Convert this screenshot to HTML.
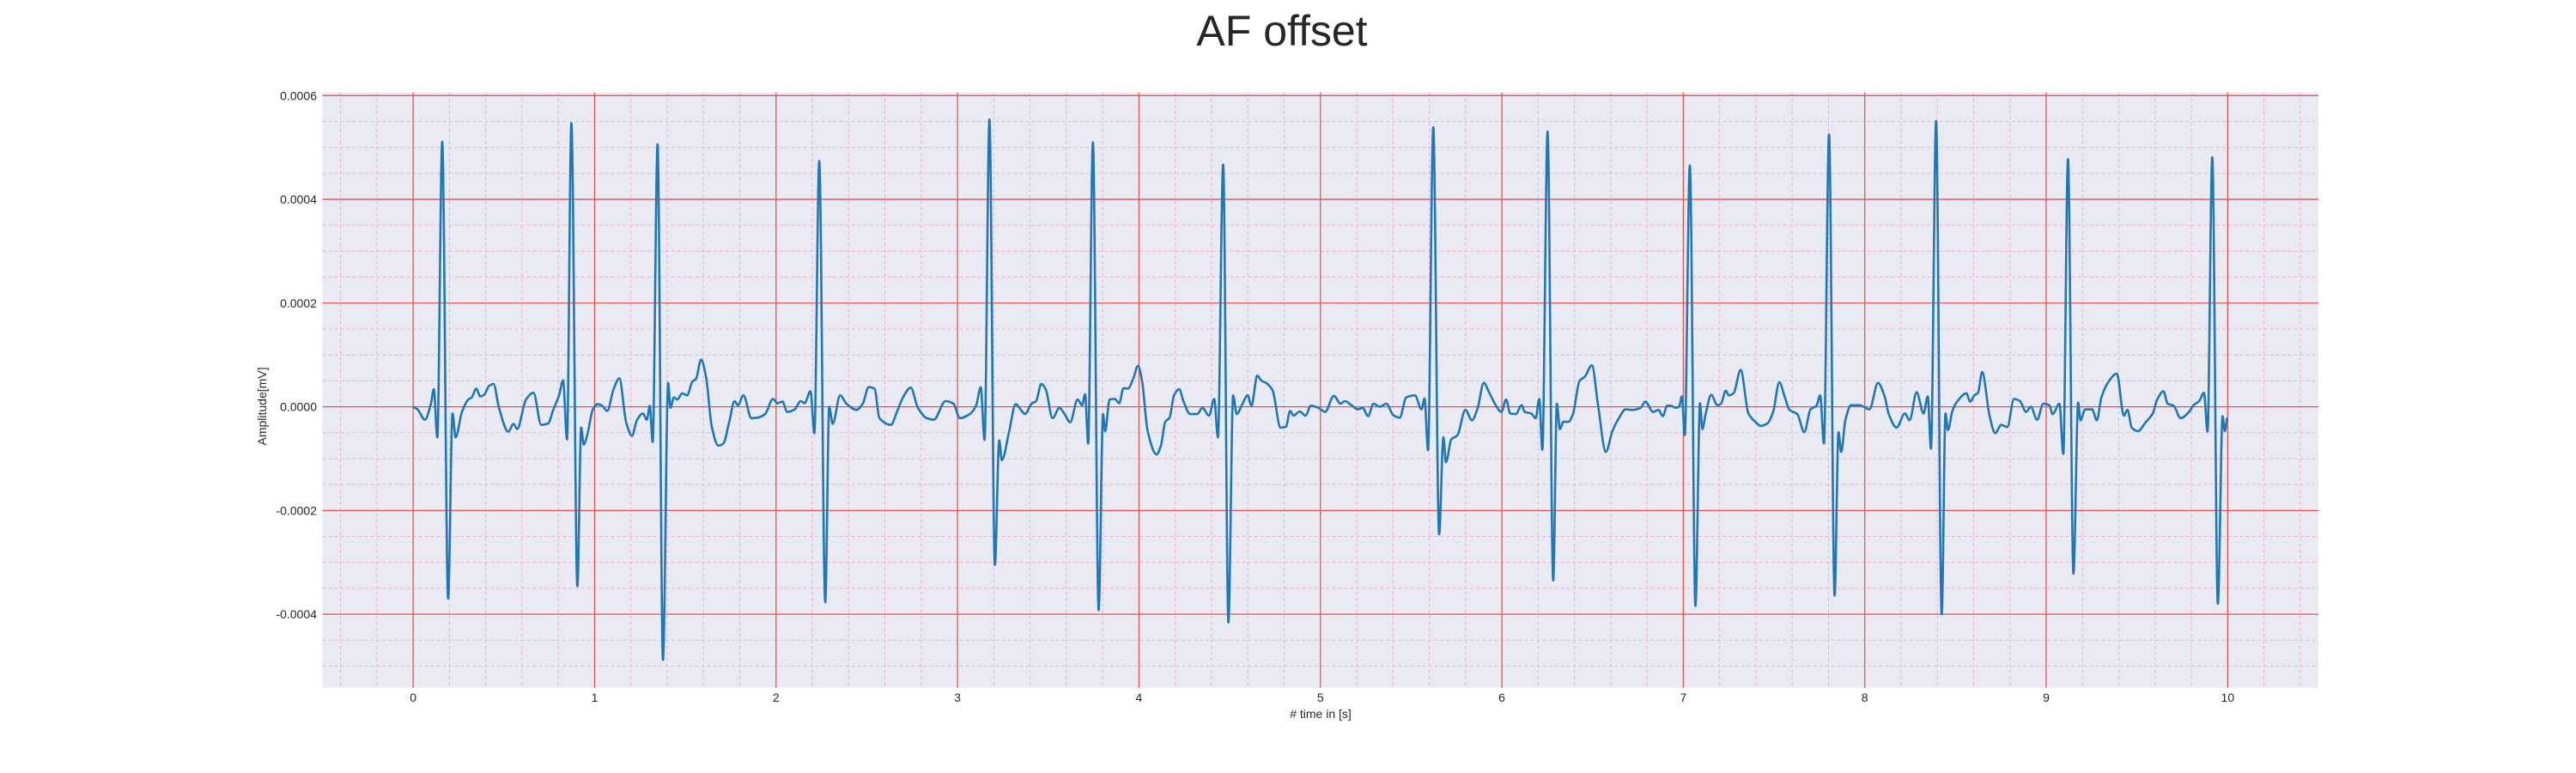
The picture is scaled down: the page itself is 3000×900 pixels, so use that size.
<!DOCTYPE html>
<html><head><meta charset="utf-8"><style>
html,body{margin:0;padding:0;background:#fff;}
svg{display:block;font-family:"Liberation Sans",sans-serif;}
</style></head><body>
<svg id="chart" width="3000" height="900" viewBox="0 0 3000 900">
<text x="1493" y="53" font-size="50" text-anchor="middle" fill="#262626">AF offset</text>
<rect x="375.5" y="107.7" width="2324.5" height="693" fill="#eaeaf2"/>
<g id="grid"></g>
<g id="ticks"></g>
<g id="series"></g>
<text x="1538" y="836" font-size="14" text-anchor="middle" fill="#262626"># time in [s]</text>
<text transform="translate(310,473) rotate(-90)" font-size="14" text-anchor="middle" fill="#262626">Amplitude[mV]</text>
</svg>
<script>
const xTicks = [0,1,2,3,4,5,6,7,8,9,10];
const yTicks = [-0.0004,-0.0002,0,0.0002,0.0004,0.0006];
const yTickLabels = ["-0.0004","-0.0002","0.0000","0.0002","0.0004","0.0006"];
// time (s)
const times = [0,.024,.065,.098,.114,.133,.160,.193,.217,.234,.269,.304,.323,.348,.370,.391,.418,.443,.473,.524,.554,.573,.622,.663,.706,.744,.772,.804,.826,.848,.872,.905,.926,.940,.962,.989,1.016,1.038,1.070,1.103,1.136,1.174,1.206,1.233,1.266,1.288,1.304,1.320,1.347,1.377,1.405,1.418,1.437,1.456,1.483,1.510,1.538,1.559,1.587,1.614,1.646,1.682,1.709,1.744,1.771,1.790,1.820,1.864,1.898,1.940,1.983,2.008,2.035,2.062,2.103,2.136,2.157,2.190,2.211,2.238,2.271,2.293,2.312,2.353,2.388,2.443,2.478,2.510,2.543,2.570,2.633,2.666,2.701,2.742,2.782,2.831,2.869,2.934,2.978,3.013,3.068,3.103,3.128,3.149,3.176,3.206,3.230,3.244,3.285,3.320,3.358,
3.372,3.408,3.433,3.462,3.486,3.524,3.561,3.590,3.621,3.662,3.686,3.703,3.720,3.746,3.778,3.802,3.814,3.838,3.867,3.891,3.915,3.939,3.969,3.995,4.017,4.048,4.097,4.121,4.145,4.169,4.193,4.222,4.246,4.282,4.321,4.350,4.386,4.415,4.435,4.464,4.493,4.519,4.539,4.567,4.599,4.620,4.652,4.676,4.700,4.736,4.780,4.809,4.833,4.852,4.886,4.918,4.947,4.990,5.026,5.074,5.111,5.135,5.171,5.207,5.232,5.263,5.292,5.328,5.364,5.401,5.437,5.473,5.521,5.557,5.574,5.593,5.622,5.654,5.678,5.692,5.721,5.755,5.799,5.835,5.867,5.900,5.932,5.968,5.997,6.024,6.046,6.077,6.109,6.126,6.162,6.186,6.206,6.223,6.252,6.283,6.303,6.320,6.339,6.368,6.392,6.428,6.457,6.496,6.530,6.573,6.609,6.645,6.682,6.718,6.766,6.790,6.834,6.863,6.887,6.911,
6.931,6.956,6.977,6.992,7.008,7.036,7.067,7.092,7.105,7.123,7.154,7.187,7.208,7.234,7.251,7.277,7.316,7.359,7.400,7.426,7.464,7.495,7.529,7.559,7.585,7.628,7.667,7.701,7.734,7.754,7.775,7.803,7.834,7.855,7.870,7.893,7.924,7.970,8.026,8.073,8.111,8.132,8.175,8.221,8.247,8.286,8.324,8.347,8.365,8.393,8.424,8.445,8.458,8.483,8.509,8.560,8.581,8.604,8.624,8.647,8.688,8.719,8.752,8.786,8.822,8.855,8.889,8.915,8.950,8.984,9.017,9.035,9.073,9.094,9.120,9.150,9.176,9.189,9.215,9.253,9.279,9.304,9.343,9.389,9.428,9.448,9.471,9.505,9.548,9.587,9.612,9.646,9.669,9.702,9.741,9.787,9.812,9.843,9.869,9.889,9.915,9.946,9.972,9.984,9.997];
// amplitude in units of 1e-4 mV
const amps = [0,-.05,-.25,.06,.34,-.59,5.11,-3.70,-.13,-.59,-.1,.14,.18,.35,.2,.23,.4,.44,-.02,-.48,-.33,-.43,.14,.27,-.35,-.32,-.06,.22,.51,-.63,5.47,-3.46,-.40,-.73,-.51,-.06,.05,.03,-.08,.32,.55,-.30,-.56,-.26,-.13,-.25,.02,-.68,5.06,-4.88,.46,-.02,.18,.14,.26,.22,.48,.54,.91,.58,-.39,-.75,-.71,-.26,.11,.03,.22,-.22,-.21,-.14,.15,.07,.10,-.1,-.05,.11,.07,.3,-.51,4.74,-3.77,0,-.33,.22,.06,-.06,.06,.38,.35,-.22,-.35,-.1,.19,.37,-.02,-.22,-.25,.11,.06,-.22,-.14,.03,.38,-.64,5.54,-3.05,-.65,-1.03,-.47,.05,-.1,
-.14,.06,.11,.44,.34,-.22,-.02,-.14,-.3,.14,.03,.24,-.71,5.10,-3.92,-.14,-.47,.14,.15,.07,.36,.35,.55,.79,.5,-.47,-.92,-.75,-.29,-.21,.22,.34,.1,-.14,-.14,-.02,-.17,.15,-.59,4.67,-4.16,.22,-.14,.03,.22,.02,.60,.5,.46,.32,-.4,-.39,-.08,-.17,-.09,-.17,.02,-.02,-.1,.21,.06,.11,.03,-.05,-.02,-.18,.06,0,.06,-.16,-.21,.18,.22,-.05,.16,-.84,5.39,-2.46,-.59,-1.07,-.63,-.55,-.06,-.26,-.02,.46,.26,.02,-.1,.14,-.13,-.14,.03,-.1,-.13,-.22,.15,-.83,5.31,-3.35,.06,-.43,-.29,-.29,-.14,.5,.58,.8,.03,-.87,-.47,-.22,-.05,-.06,-.02,.1,-.1,-.06,-.18,.02,
.02,-.02,0,.2,-.55,4.65,-3.84,.07,-.43,-.14,.23,.03,.06,.31,.22,.26,.71,-.13,-.3,-.37,-.32,-.1,.47,.19,-.06,-.14,-.49,-.05,.02,.22,-.71,5.25,-3.64,-.49,-.87,-.26,.03,.03,-.05,.46,.18,-.14,-.4,-.13,-.26,.28,-.13,.2,-.81,5.51,-4.0,-.13,-.45,-.08,.1,.26,.1,.22,.27,.67,-.18,-.51,-.35,-.39,.15,.11,-.1,0,-.25,.06,.03,-.14,.06,-.91,4.78,-3.22,.08,-.26,-.05,-.05,-.26,.18,.48,.64,-.17,-.06,-.4,-.47,-.3,-.13,.14,.3,.06,.02,-.22,-.1,.03,.11,.27,-.48,4.81,-3.80,-.18,-.47,-.21];

const NS='http://www.w3.org/2000/svg';
const X0=375.5, X1=2700, XMIN=-0.5, XMAX=10.5;
const Y0=473.6, PX_PER_UNIT=60.38e4; // px per mV
const YT=107.7, YB=800.7;
function sx(t){return X0+(t-XMIN)/(XMAX-XMIN)*(X1-X0);}
function sy(v){return Y0-v*PX_PER_UNIT;}
function mk(tag,attrs,parent){const e=document.createElementNS(NS,tag);for(const k in attrs)e.setAttribute(k,attrs[k]);parent.appendChild(e);return e;}
const grid=document.getElementById('grid');
for(let i=-2;i<=52;i++){const t=i*0.2; if(i%5===0) continue; if(t<XMIN||t>XMAX) continue;
 const l=mk('line',{x1:sx(t),x2:sx(t),y1:YT,y2:YB,stroke:'#eeb0e0','stroke-width':1,'stroke-dasharray':'4,3'},grid);
 
 }
for(let i=-10;i<=12;i++){const v=i*0.00005; if(i%4===0) continue; const y=sy(v); if(y<YT||y>YB) continue;
 const l=mk('line',{x1:X0,x2:X1,y1:y,y2:y,stroke:'#eeb0e0','stroke-width':1,'stroke-dasharray':'4,3'},grid);
 
 }
const ticks=document.getElementById('ticks');
xTicks.forEach(t=>{
 const l=mk('line',{x1:sx(t),x2:sx(t),y1:YT,y2:YB,stroke:'#f05050','stroke-width':1.3},grid);
 
 
 const tx=mk('text',{x:sx(t),y:817,'font-size':14,'text-anchor':'middle',fill:'#262626'},ticks);
 tx.textContent=String(t);
 
 
});
yTicks.forEach((v,i)=>{
 const l=mk('line',{x1:X0,x2:X1,y1:sy(v),y2:sy(v),stroke:'#f05050','stroke-width':1.3},grid);
 
 
 const tx=mk('text',{x:369,y:sy(v)+5,'font-size':14,'text-anchor':'end',fill:'#262626'},ticks);
 tx.textContent=yTickLabels[i];
 
 
});
// monotone cubic smoothing of the series
const P=times.map((t,i)=>[sx(t),sy(amps[i]*1e-4)]);
const n=P.length, m=new Array(n).fill(0), d=[];
for(let i=0;i<n-1;i++) d.push((P[i+1][1]-P[i][1])/(P[i+1][0]-P[i][0]));
m[0]=d[0]; m[n-1]=d[n-2];
for(let i=1;i<n-1;i++){ m[i]=(d[i-1]*d[i]<=0)?0:2/(1/d[i-1]+1/d[i]); }
let dp='M'+P[0][0].toFixed(1)+','+P[0][1].toFixed(1);
for(let i=0;i<n-1;i++){const h=(P[i+1][0]-P[i][0])/3;
 dp+=' C'+(P[i][0]+h).toFixed(1)+','+(P[i][1]+m[i]*h).toFixed(1)+' '+(P[i+1][0]-h).toFixed(1)+','+(P[i+1][1]-m[i+1]*h).toFixed(1)+' '+P[i+1][0].toFixed(1)+','+P[i+1][1].toFixed(1);}
const pl=mk('path',{d:dp,fill:'none',stroke:'#1f77b4','stroke-width':2.6,'stroke-linejoin':'round'},document.getElementById('series'));


</script>
</body></html>
